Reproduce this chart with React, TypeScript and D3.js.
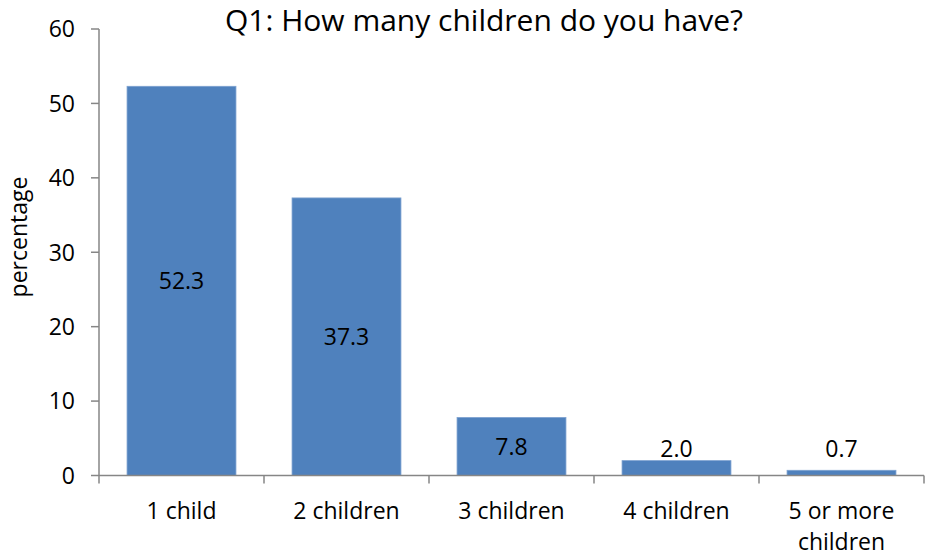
import React from "react";
import * as d3 from "d3";

const categories: string[][] = [["1 child"], ["2 children"], ["3 children"], ["4 children"], ["5 or more", "children"]];
const values: number[] = [52.3, 37.3, 7.8, 2.0, 0.7];
const labels: string[] = ["52.3", "37.3", "7.8", "2.0", "0.7"];
const yTicks: number[] = [0, 10, 20, 30, 40, 50, 60];
const title = "Q1: How many children do you have?";
const yTitle = "percentage";

const W = 931;
const H = 558;
const FONT = "'Open Sans', sans-serif";

export default function App() {
  const x0 = 99, x1 = 924, yTop = 29, yBot = 475.5;
  const x = d3.scaleBand<number>().domain(d3.range(values.length)).range([x0, x1]).paddingInner(0.34).paddingOuter(0.17);
  const y = d3.scaleLinear().domain([0, 60]).range([yBot, yTop]);
  const step = x.step();
  const axisColor = "#868686";
  return (
    <svg width={W} height={H} style={{ position: "absolute", left: 0, top: 0, background: "#fff" }} fontFamily={FONT}>
      <text x={484} y={31} textAnchor="middle" fontSize={30} fill="#000">{title}</text>
      <text transform={`translate(27,237) rotate(-90)`} textAnchor="middle" fontSize={23} fill="#000">{yTitle}</text>
      {values.map((v, i) => (
        <rect key={i} x={x(i)} y={y(v)} width={x.bandwidth()} height={y(0) - y(v)} fill="#4F81BD" stroke="#7DA2D0" strokeWidth={0.8} />
      ))}
      <line x1={x0} x2={x0} y1={yTop} y2={yBot} stroke={axisColor} strokeWidth={1.5} />
      <line x1={x0} x2={x1} y1={yBot} y2={yBot} stroke={axisColor} strokeWidth={1.5} />
      {yTicks.map((t) => (
        <g key={t}>
          <line x1={x0 - 8} x2={x0} y1={y(t)} y2={y(t)} stroke={axisColor} strokeWidth={1.5} />
          <text x={x0 - 24} y={y(t)} dy="0.36em" textAnchor="end" fontSize={23} fill="#000">{t}</text>
        </g>
      ))}
      {d3.range(values.length + 1).map((i) => (
        <line key={i} x1={x0 + i * step} x2={x0 + i * step} y1={yBot} y2={yBot + 8} stroke={axisColor} strokeWidth={1.5} />
      ))}
      {categories.map((lines, i) => (
        <text key={i} x={(x(i) as number) + x.bandwidth() / 2} y={519} textAnchor="middle" fontSize={23} fill="#000">
          {lines.map((l, j) => (
            <tspan key={j} x={(x(i) as number) + x.bandwidth() / 2} dy={j === 0 ? 0 : 31}>{l}</tspan>
          ))}
        </text>
      ))}
      {values.map((v, i) => {
        const h = y(0) - y(v);
        const cy = h > 40 ? (y(v) + y(0)) / 2 : y(0) - 27;
        return (
          <text key={i} x={(x(i) as number) + x.bandwidth() / 2} y={cy} dy="0.36em" textAnchor="middle" fontSize={23} fill="#000">{labels[i]}</text>
        );
      })}
    </svg>
  );
}
